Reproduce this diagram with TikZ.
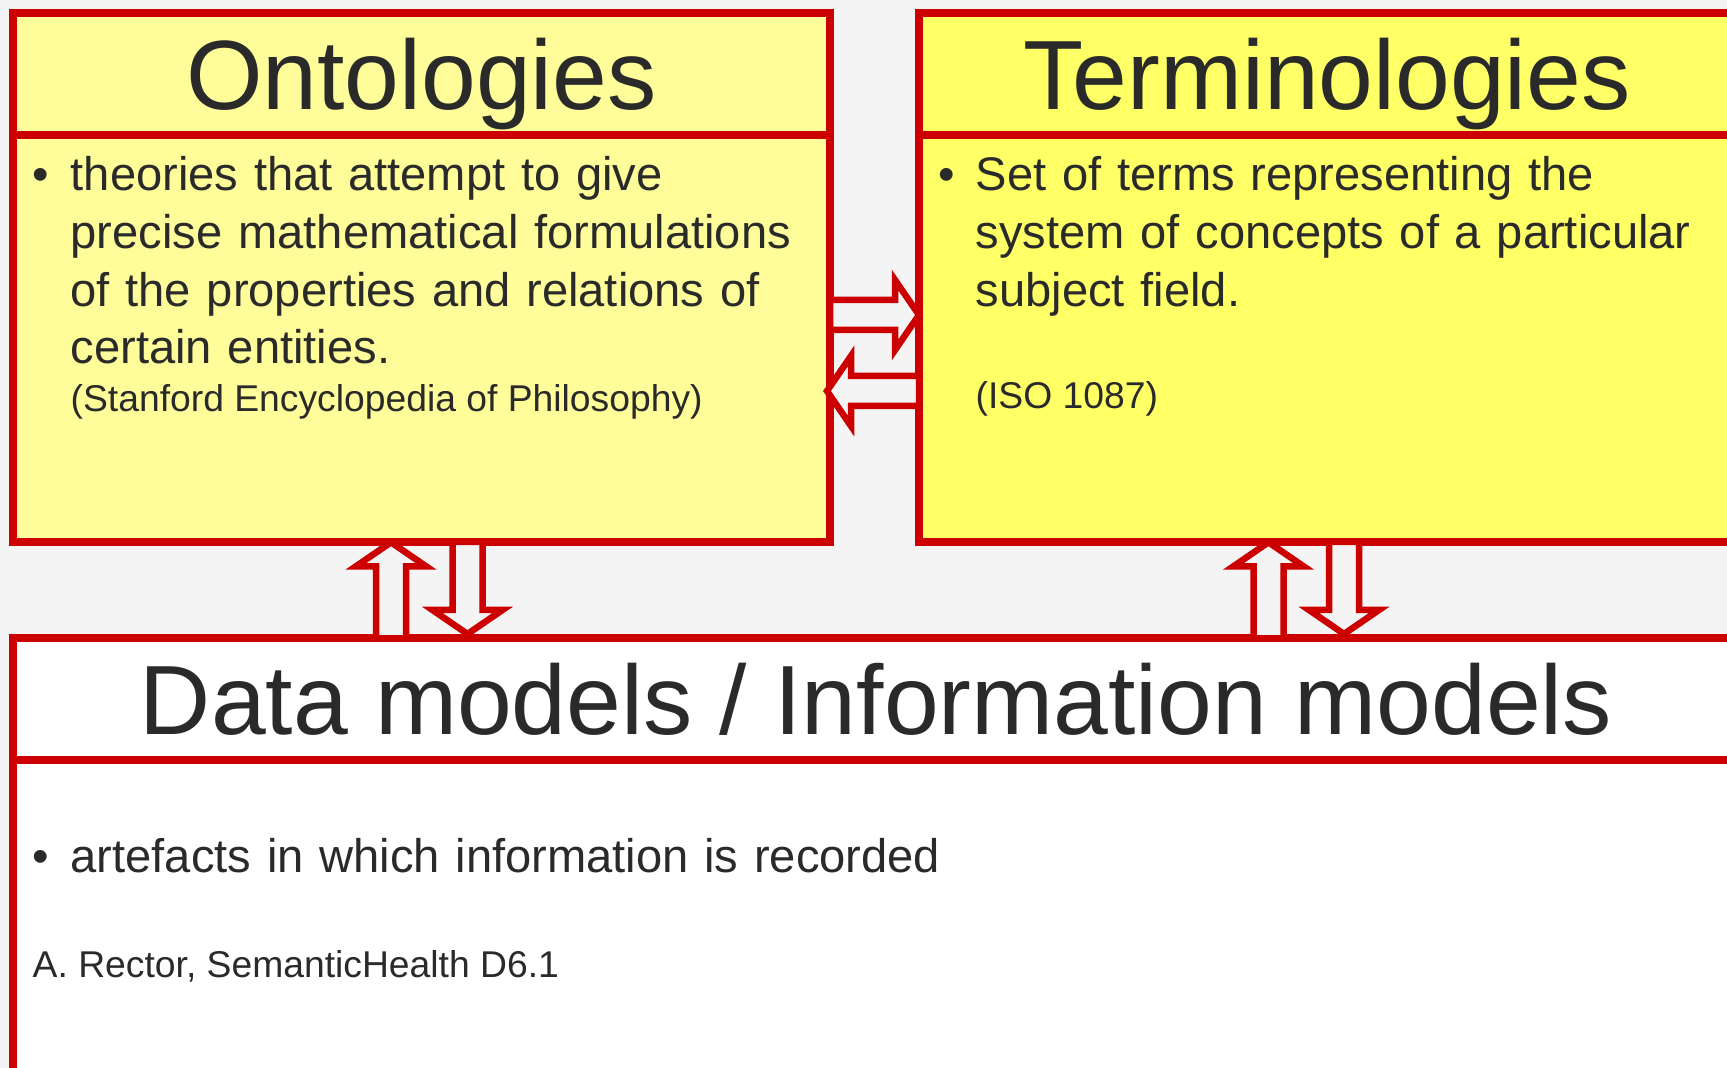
\documentclass[tikz,border=0pt]{standalone}
\usepackage{fontspec}
\setmainfont{Liberation Sans}
\definecolor{boxred}{RGB}{204,0,0}
\definecolor{ontoyellow}{RGB}{255,253,153}
\definecolor{termyellow}{RGB}{255,255,102}
\definecolor{pagegrey}{RGB}{244,244,244}
\definecolor{ink}{RGB}{42,42,42}
\begin{document}
\begin{tikzpicture}[x=0.01cm,y=-0.01cm,text=ink,
    panel/.style={draw=boxred,line width=0.08cm,rectangle,anchor=north west,
      inner sep=0pt,outer sep=0pt,minimum height=5.29cm},
    rule/.style={draw=boxred,line width=0.08cm},
    title/.style={anchor=base,inner sep=0pt,font=\fontsize{28}{33}\selectfont},
    body/.style={anchor=base west,inner sep=0pt,align=left,text width=7.6cm,
      font=\fontsize{13.4}{16.36}\selectfont},
    bullet/.style={anchor=base,inner sep=0pt,font=\fontsize{13.4}{16.36}\selectfont},
    source/.style={anchor=base west,inner sep=0pt,font=\fontsize{10.6}{12.6}\selectfont},
    arrowline/.style={draw=boxred,fill=pagegrey,line width=0.065cm,line join=miter},
    pics/blockarrow/.style={code={
      \draw[arrowline] (0,0) -- (35,24) -- (15,24) -- (15,#1) -- (-15,#1)
        -- (-15,24) -- (-35,24) -- cycle;}}]
    \useasboundingbox (0,0) rectangle (1727,1068);
    \clip (0,0) rectangle (1727,1068);
    \fill[pagegrey] (0,0) rectangle (1727,1068);
    % the three boxes
    \node[panel,fill=ontoyellow,minimum width=8.17cm] (onto) at (13,13) {};
    \node[panel,fill=termyellow,minimum width=8.21cm] (term) at (919,13) {};
    \node[panel,fill=white,minimum width=17.27cm,minimum height=4.42cm] (data) at (13,638) {};
    \draw[rule] ([yshift=-1.22cm]onto.north west) -- ([yshift=-1.22cm]onto.north east);
    \draw[rule] ([yshift=-1.22cm]term.north west) -- ([yshift=-1.22cm]term.north east);
    \draw[rule] ([yshift=-1.22cm]data.north west) -- ([yshift=-1.22cm]data.north east);
    % headings
    \node[title] (ontohead) at (421.5,110) {Ontologies};
    \node[title] (termhead) at (1327,110) {Terminologies};
    \node[title] (datahead) at (876,735) {Data models / Information models};
    % texts
    \node[bullet] (ontodot) at (41,191) {•};
    \node[body] (ontotext) at (70,191) {theories that attempt to give\\precise mathematical formulations\\of the properties and relations of\\certain entities.};
    \node[source] (ontosrc) at (70,412) {(Stanford Encyclopedia of Philosophy)};
    \node[bullet] (termdot) at (947,191) {•};
    \node[body] (termtext) at (975,191) {Set of terms representing the\\system of concepts of a particular\\subject field.};
    \node[source] (termsrc) at (975,409) {(ISO 1087)};
    \node[bullet] (datadot) at (41,873) {•};
    \node[body,text width=12cm] (datatext) at (70,873) {artefacts in which information is recorded};
    \node[source] (datasrc) at (32,978) {A. Rector, SemanticHealth D6.1};
    % block arrows between the boxes
    \pic[rotate=-90] at (919,315) {blockarrow=89};
    \pic[rotate=90] at (827,391) {blockarrow=92};
    \pic at (391,0 |- onto.south) {blockarrow=96};
    \pic[rotate=180] at (467.5,634) {blockarrow=92};
    \pic at (1268.5,0 |- term.south) {blockarrow=96};
    \pic[rotate=180] at (1344,634) {blockarrow=92};
  \end{tikzpicture}
\end{document}
